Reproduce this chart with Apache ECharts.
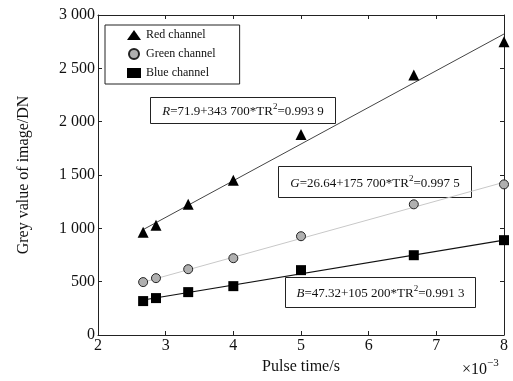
<!DOCTYPE html>
<html>
<head>
<meta charset="utf-8">
<script src="https://cdn.jsdelivr.net/npm/echarts@6/dist/echarts.min.js"></script>
<style>
  html, body { margin: 0; padding: 0; background: #fff; }
  #chart { width: 513px; height: 381px; }
</style>
</head>
<body>
<div id="chart"></div>
<script>
// pulse time, ×10^-3 s
const pulseTime = [2.667, 2.857, 3.333, 4, 5, 6.667, 8]
const redValues = [963, 1029, 1225, 1450, 1880, 2438, 2750]
const greenValues = [496, 533, 617, 720, 926, 1225, 1412]
const blueValues = [318, 346, 402, 458, 608, 748, 889]
// fitted lines, end points
const redFit = [[2.667, 988], [8, 2822]]
const greenFit = [[2.667, 495], [8, 1432]]
const blueFit = [[2.667, 328], [8, 889]]
const yTicks = [0, 500, 1000, 1500, 2000, 2500, 3000]

const font = '"Liberation Serif", "DejaVu Serif", serif'
const axisColor = '#222'
const textColor = '#111'

function pairs(xs, ys) {
  return xs.map((x, i) => [x, ys[i]])
}
function fmtY(v) {
  // 3000 -> "3 000"
  return v >= 1000 ? Math.floor(v / 1000) + ' ' + String(v % 1000).padStart(3, '0') : String(v)
}

const chart = echarts.init(document.getElementById('chart'))

const baseX = {
  type: 'value', min: 2, max: 8, interval: 1,
  axisLine: { show: true, onZero: false, lineStyle: { color: axisColor, width: 1 } },
  axisTick: { show: true, inside: true, length: 4, lineStyle: { color: axisColor } },
  splitLine: { show: false }
}
const baseY = {
  type: 'value', min: 0, max: 3000, interval: 500,
  axisLine: { show: true, onZero: false, lineStyle: { color: axisColor, width: 1 } },
  axisTick: { show: true, inside: true, length: 4, lineStyle: { color: axisColor } },
  splitLine: { show: false }
}

// box + rich text for equations
function eqBox(x, y, w, h, letter, rest1, rest2) {
  return {
    type: 'group', left: x, top: y,
    children: [
      { type: 'rect', shape: { x: 0, y: 0, width: w, height: h },
        style: { fill: '#fff', stroke: '#222', lineWidth: 1 } },
      { type: 'text', x: w / 2, y: h / 2,
        style: {
          text: '{i|' + letter + '}{n|' + rest1 + '}{s|2}{n|' + rest2 + '}',
          align: 'center', verticalAlign: 'middle',
          rich: {
            i: { fontFamily: font, fontSize: 13, fontStyle: 'italic', fill: textColor, lineHeight: 16, verticalAlign: 'bottom' },
            n: { fontFamily: font, fontSize: 13, fill: textColor, lineHeight: 16, verticalAlign: 'bottom' },
            s: { fontFamily: font, fontSize: 9, fill: textColor, lineHeight: 16, verticalAlign: 'top' }
          }
        } }
    ]
  }
}

const options = {
  animation: false,
  grid: { left: 98, right: 9, top: 15, bottom: 46 },
  legend: {
    data: ['Red channel', 'Green channel', 'Blue channel'],
    orient: 'vertical',
    left: 105, top: 25,
    padding: [4, 24, 5, 22],
    itemWidth: 14, itemHeight: 10, itemGap: 7,
    borderColor: '#222', borderWidth: 1,
    backgroundColor: '#fff',
    textStyle: { fontFamily: font, fontSize: 12, color: textColor }
  },
  xAxis: [
    Object.assign({}, baseX, {
      position: 'bottom',
      name: 'Pulse time/s', nameLocation: 'middle', nameGap: 24,
      nameTextStyle: { fontFamily: font, fontSize: 16, color: textColor },
      axisLabel: { fontFamily: font, fontSize: 16, color: textColor, margin: 3 }
    }),
    Object.assign({}, baseX, { position: 'top', axisLabel: { show: false } })
  ],
  yAxis: [
    Object.assign({}, baseY, {
      position: 'left',
      name: 'Grey value of image/DN', nameLocation: 'middle', nameGap: 66,
      nameTextStyle: { fontFamily: font, fontSize: 16, color: textColor },
      axisLabel: {
        fontFamily: font, fontSize: 16, color: textColor, margin: 3,
        formatter: v => yTicks.includes(v) ? fmtY(v) : ''
      }
    }),
    Object.assign({}, baseY, { position: 'right', axisLabel: { show: false } })
  ],
  series: [
    { type: 'line', data: redFit, symbol: 'none', silent: true,
      lineStyle: { color: '#444', width: 1 }, z: 1 },
    { type: 'line', data: greenFit, symbol: 'none', silent: true,
      lineStyle: { color: '#c8c8c8', width: 1 }, z: 1 },
    { type: 'line', data: blueFit, symbol: 'none', silent: true,
      lineStyle: { color: '#111', width: 1.2 }, z: 1 },
    { name: 'Red channel', type: 'scatter', data: pairs(pulseTime, redValues),
      symbol: 'triangle', symbolSize: 11,
      itemStyle: { color: '#000', opacity: 1 }, z: 3 },
    { name: 'Green channel', type: 'scatter', data: pairs(pulseTime, greenValues),
      symbol: 'circle', symbolSize: 9,
      itemStyle: { color: '#b0b0b0', borderColor: '#222', borderWidth: 1, opacity: 1 }, z: 3 },
    { name: 'Blue channel', type: 'scatter', data: pairs(pulseTime, blueValues),
      symbol: 'rect', symbolSize: 10,
      itemStyle: { color: '#000', opacity: 1 }, z: 3 }
  ],
  graphic: [
    eqBox(150, 97, 185, 26, 'R', '=71.9+343 700*TR', '=0.993 9'),
    eqBox(278, 166, 193, 31, 'G', '=26.64+175 700*TR', '=0.997 5'),
    eqBox(285, 277, 190, 30, 'B', '=47.32+105 200*TR', '=0.991 3'),
    { type: 'text', left: 462, top: 358,
      style: {
        text: '{n|×10}{s|−3}',
        rich: {
          n: { fontFamily: font, fontSize: 16, fill: textColor, lineHeight: 20, verticalAlign: 'bottom' },
          s: { fontFamily: font, fontSize: 11, fill: textColor, lineHeight: 20, verticalAlign: 'top' }
        }
      } }
  ]
}

chart.setOption(options)
</script>
</body>
</html>
